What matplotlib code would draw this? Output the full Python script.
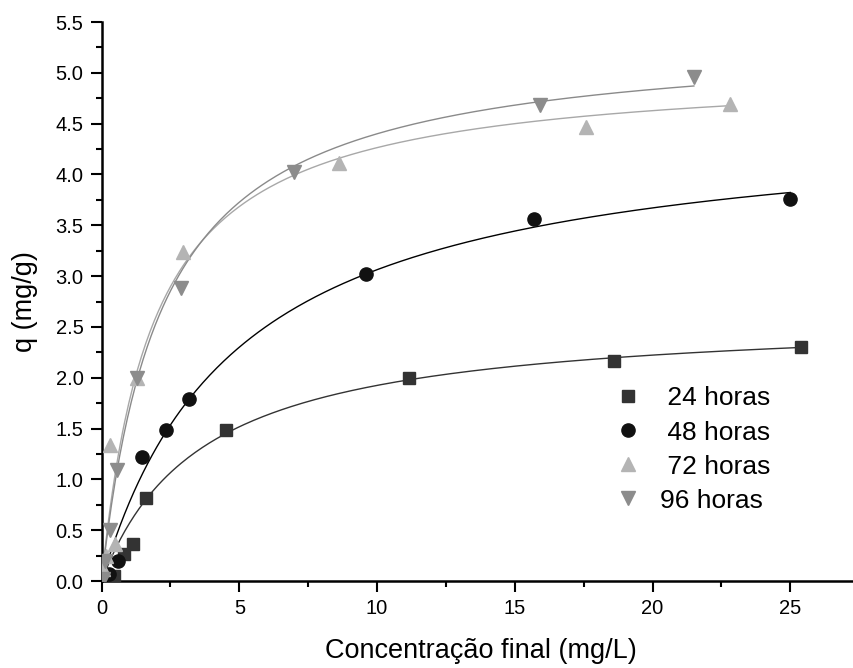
import numpy as np
import matplotlib
matplotlib.use("Agg")
import matplotlib.pyplot as plt
from matplotlib.ticker import MultipleLocator

plt.rcParams['font.family'] = ['Liberation Sans', 'DejaVu Sans']

# dados
c24 = [0.45, 0.80, 1.15, 1.60, 4.50, 11.15, 18.60, 25.40]
q24 = [0.05, 0.27, 0.36, 0.82, 1.49, 2.00, 2.16, 2.30]
c48 = [0.25, 0.60, 1.45, 2.33, 3.18, 9.60, 15.70, 25.00]
q48 = [0.07, 0.20, 1.22, 1.49, 1.79, 3.02, 3.56, 3.76]
c72 = [0.05, 0.15, 0.32, 0.50, 1.27, 2.95, 8.60, 17.60, 22.80]
q72 = [0.12, 0.25, 1.34, 0.36, 2.00, 3.24, 4.11, 4.47, 4.69]
c96 = [0.05, 0.12, 0.30, 0.57, 1.27, 2.87, 7.00, 15.90, 21.50]
q96 = [0.02, 0.20, 0.50, 1.09, 2.00, 2.88, 4.02, 4.68, 4.96]

# ajuste de Langmuir (qmax, KL) estimado a partir das curvas
qmax = [2.63, 4.58, 5.06, 5.37]
kl = [0.273, 0.202, 0.536, 0.454]

labels = [' 24 horas', ' 48 horas', ' 72 horas', '96 horas']
marcadores = ['s', 'o', '^', 'v']
tamanhos = [8.5, 9.5, 10, 10]
cores_pt = ['#333333', '#111111', '#b4b4b4', '#8c8c8c']
cores_ln = ['#333333', '#000000', '#a8a8a8', '#8a8a8a']

fig = plt.figure(figsize=(8.54, 6.68), dpi=100)
ax = fig.add_axes([0.119, 0.1302, 0.879, 0.8368])

series = [(c24, q24), (c48, q48), (c72, q72), (c96, q96)]
for i, (c, q) in enumerate(series):
    cc = np.linspace(0, max(c), 300)
    ax.plot(cc, qmax[i] * kl[i] * cc / (1 + kl[i] * cc), color=cores_ln[i], lw=1.0, zorder=2)
for i, (c, q) in enumerate(series):
    ax.plot(c, q, linestyle='none', marker=marcadores[i], ms=tamanhos[i],
            color=cores_pt[i], mec=cores_pt[i], label=labels[i], zorder=3)

ax.set_xlim(0, 27.25)
ax.set_ylim(0, 5.5)
ax.xaxis.set_major_locator(MultipleLocator(5))
ax.xaxis.set_minor_locator(MultipleLocator(2.5))
ax.yaxis.set_major_locator(MultipleLocator(0.5))
ax.yaxis.set_minor_locator(MultipleLocator(0.25))
ax.xaxis.set_major_formatter(plt.FuncFormatter(lambda v, p: '%d' % v))
ax.yaxis.set_major_formatter(plt.FuncFormatter(lambda v, p: '%.1f' % v))

for s in ['top', 'right']:
    ax.spines[s].set_visible(False)
for s in ['left', 'bottom']:
    ax.spines[s].set_linewidth(1.8)
ax.tick_params(which='major', direction='out', length=8, width=1.5, labelsize=14.5, pad=5)
ax.tick_params(which='minor', direction='out', length=4.5, width=1.5)

ax.set_xlabel('Concentração final (mg/L)', fontsize=19.5)
ax.set_ylabel('q (mg/g)', fontsize=19.5)
ax.xaxis.set_label_coords(0.505, -0.102)
ax.yaxis.set_label_coords(-0.085, 0.5)

ax.legend(loc='upper left', bbox_to_anchor=(0.652, 0.3905), frameon=False, fontsize=19,
          handlelength=1.0, handletextpad=0.7, labelspacing=0.38, numpoints=1, markerscale=1.0)

fig.savefig('out.png', dpi=100)
